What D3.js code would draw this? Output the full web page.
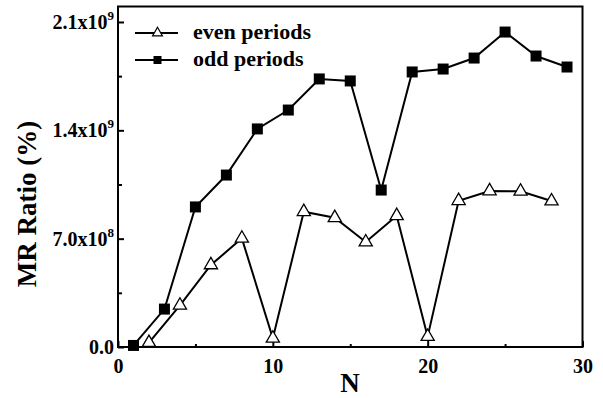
<!DOCTYPE html>
<html>
<head>
<meta charset="utf-8">
<script src="https://cdn.jsdelivr.net/npm/d3@7"></script>
<style>
html,body{margin:0;padding:0;background:#fff;}
svg{display:block;}
text{font-family:"Liberation Serif","Times New Roman",serif;font-weight:bold;fill:#000;}
</style>
</head>
<body>
<svg id="chart" width="603" height="398"></svg>
<script>
// ---- data ----
const evenN = [2, 4, 6, 8, 10, 12, 14, 16, 18, 20, 22, 24, 26, 28];
const evenMR = [0.028e9, 0.269e9, 0.530e9, 0.702e9, 0.056e9, 0.874e9, 0.835e9, 0.678e9, 0.848e9, 0.067e9, 0.945e9, 1.008e9, 1.006e9, 0.943e9];
const oddN = [1, 3, 5, 7, 9, 11, 13, 15, 17, 19, 21, 23, 25, 27, 29];
const oddMR = [0.01e9, 0.245e9, 0.905e9, 1.111e9, 1.409e9, 1.531e9, 1.732e9, 1.719e9, 1.014e9, 1.777e9, 1.796e9, 1.867e9, 2.035e9, 1.880e9, 1.809e9];
const xTicks = [0, 10, 20, 30];
const xMinorTicks = [5, 15, 25];
const yTicks = [0, 7e8, 1.4e9, 2.1e9];
const yMinorTicks = [3.5e8, 1.05e9, 1.75e9];
const yTickMantissa = ["0.0", "7.0x10", "1.4x10", "2.1x10"];
const yTickExp = ["", "8", "9", "9"];
const seriesNames = ["even periods", "odd periods"];
const xTitle = "N";
const yTitle = "MR Ratio (%)";

// ---- layout ----
const svg = d3.select("#chart");
const L = 118, R = 582.5, T = 6.5, B = 347;
const x = d3.scaleLinear().domain([0, 30]).range([L, R]);
const y = d3.scaleLinear().domain([0, 2.2e9]).range([B, T]);

// frame
svg.append("rect").attr("x", L).attr("y", T).attr("width", R - L).attr("height", B - T)
  .attr("fill", "none").attr("stroke", "#000").attr("stroke-width", 2);

// x axis ticks (inward)
const xAxis = d3.axisBottom(x).tickValues(xTicks).tickSizeInner(-6).tickSizeOuter(0).tickPadding(12).tickFormat(d3.format("d"));
const gx = svg.append("g").attr("transform", `translate(0,${B})`).call(xAxis);
gx.select(".domain").remove();
gx.selectAll(".tick line").attr("stroke", "#000").attr("stroke-width", 2);
gx.selectAll(".tick text").attr("font-size", 20).attr("font-family", "Liberation Serif").attr("font-weight", "bold").attr("fill", "#000");
const xMinor = d3.axisBottom(x).tickValues(xMinorTicks).tickSizeInner(-3).tickSizeOuter(0).tickFormat("");
const gxm = svg.append("g").attr("transform", `translate(0,${B})`).call(xMinor);
gxm.select(".domain").remove();
gxm.selectAll(".tick line").attr("stroke", "#000").attr("stroke-width", 2);

// y axis ticks (inward)
const yAxis = d3.axisLeft(y).tickValues(yTicks).tickSizeInner(-6).tickSizeOuter(0).tickFormat("");
const gy = svg.append("g").attr("transform", `translate(${L},0)`).call(yAxis);
gy.select(".domain").remove();
gy.selectAll(".tick line").attr("stroke", "#000").attr("stroke-width", 2);
const yMinor = d3.axisLeft(y).tickValues(yMinorTicks).tickSizeInner(-4).tickSizeOuter(0).tickFormat("");
const gym = svg.append("g").attr("transform", `translate(${L},0)`).call(yMinor);
gym.select(".domain").remove();
gym.selectAll(".tick line").attr("stroke", "#000").attr("stroke-width", 2);

// y tick labels with superscripts
yTicks.forEach((v, i) => {
  const t = svg.append("text").attr("x", L - 4).attr("y", y(v) + 7).attr("text-anchor", "end").attr("font-size", 20);
  t.append("tspan").text(yTickMantissa[i]);
  if (yTickExp[i]) t.append("tspan").attr("font-size", 13).attr("dy", -9).text(yTickExp[i]);
});

// titles
svg.append("text").attr("x", 350).attr("y", 392).attr("text-anchor", "middle").attr("font-size", 27).text(xTitle);
svg.append("text").attr("transform", "translate(36,204) rotate(-90)").attr("text-anchor", "middle").attr("font-size", 27).text(yTitle);

// lines
const line = d3.line().x(d => x(d[0])).y(d => y(d[1]));
const evenPts = evenN.map((n, i) => [n, evenMR[i]]);
const oddPts = oddN.map((n, i) => [n, oddMR[i]]);
svg.append("path").attr("d", line(evenPts)).attr("fill", "none").attr("stroke", "#000").attr("stroke-width", 2);
svg.append("path").attr("d", line(oddPts)).attr("fill", "none").attr("stroke", "#000").attr("stroke-width", 2);

// markers
const tri = d3.symbol().type(d3.symbolTriangle).size(75);
const sq = d3.symbol().type(d3.symbolSquare).size(121);
svg.append("g").selectAll("path").data(oddPts).join("path")
  .attr("d", sq).attr("transform", d => `translate(${x(d[0])},${y(d[1])})`).attr("fill", "#000");
svg.append("g").selectAll("path").data(evenPts).join("path")
  .attr("d", tri).attr("transform", d => `translate(${x(d[0])},${y(d[1])})`)
  .attr("fill", "#fff").attr("stroke", "#000").attr("stroke-width", 1.3);

// legend
const legRows = [33, 60];
const legSym = [d3.symbol().type(d3.symbolTriangle).size(42), d3.symbol().type(d3.symbolSquare).size(64)];
seriesNames.forEach((name, i) => {
  const g = svg.append("g");
  g.append("line").attr("x1", 135).attr("x2", 178).attr("y1", legRows[i]).attr("y2", legRows[i]).attr("stroke", "#000").attr("stroke-width", 2);
  g.append("path").attr("d", legSym[i]).attr("transform", `translate(157.5,${legRows[i]})`)
    .attr("fill", i === 0 ? "#fff" : "#000").attr("stroke", i === 0 ? "#000" : "none").attr("stroke-width", 1.2);
  if (i === 0) g.append("rect").attr("x", 151).attr("y", legRows[i] - 1.5).attr("width", 0).attr("height", 0);
  g.append("text").attr("x", 193).attr("y", legRows[i] + 6).attr("font-size", 22).text(name);
});
</script>
</body>
</html>
